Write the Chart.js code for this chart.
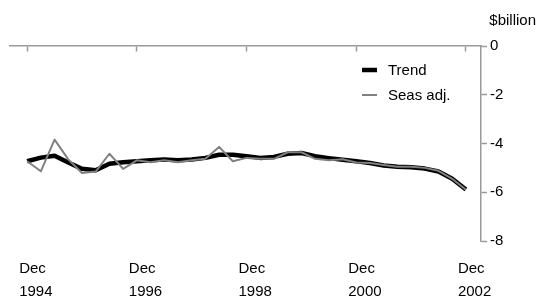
<!DOCTYPE html>
<html>
<head>
<meta charset="utf-8">
<script src="https://cdn.jsdelivr.net/npm/chart.js@4/dist/chart.umd.min.js"></script>
<style>
  body { margin: 0; background: #fff; }
  #wrap { width: 536px; height: 300px; }
</style>
</head>
<body>
<div id="wrap"><canvas id="c" width="536" height="300"></canvas></div>
<script>
// Quarterly values, Dec 1994 .. Dec 2002 ($billion)
const trend = [-4.73, -4.58, -4.5, -4.78, -5.04, -5.1, -4.83, -4.77, -4.73, -4.69, -4.66,
  -4.69, -4.66, -4.59, -4.46, -4.46, -4.52, -4.59, -4.55, -4.42, -4.39, -4.52,
  -4.6, -4.67, -4.73, -4.8, -4.9, -4.95, -4.97, -5.03, -5.15, -5.45, -5.89];
const seasAdj = [-4.73, -5.14, -3.84, -4.65, -5.21, -5.15, -4.42, -5.04, -4.69, -4.77, -4.69,
  -4.77, -4.69, -4.63, -4.14, -4.73, -4.59, -4.63, -4.63, -4.36, -4.36, -4.63,
  -4.69, -4.65, -4.78, -4.8, -4.88, -4.95, -4.95, -5.0, -5.12, -5.45, -5.9];

// x tick positions (quarter index) and their labels
const tickIdx = [0, 8, 16, 24, 32];
const tickMonth = ['Dec', 'Dec', 'Dec', 'Dec', 'Dec'];
const tickYear = ['1994', '1996', '1998', '2000', '2002'];
const yTicks = [0, -2, -4, -6, -8];
const unitLabel = '$billion';

const AXIS_GREY = '#9a9a9a';
const FONT = { family: 'Arial, "Liberation Sans", sans-serif', size: 15 };

// draws unit label + small legend inside the plot
const extras = {
  id: 'extras',
  afterDraw(chart) {
    const ctx = chart.ctx;
    ctx.save();
    ctx.font = '15px Arial, "Liberation Sans", sans-serif';
    ctx.fillStyle = '#000';
    ctx.textBaseline = 'middle';
    ctx.textAlign = 'right';
    ctx.fillText(unitLabel, 536, 21);

    ctx.textAlign = 'left';
    const items = [chart.data.datasets[0], chart.data.datasets[1]];
    items.forEach((ds, i) => {
      const y = 70 + i * 25;
      ctx.strokeStyle = ds.borderColor;
      ctx.lineWidth = ds.borderWidth;
      ctx.lineCap = 'butt';
      ctx.beginPath();
      ctx.moveTo(362, y);
      ctx.lineTo(377, y);
      ctx.stroke();
      ctx.fillText(ds.label, 388, y + 1);
    });
    ctx.restore();
  }
};

function setTicks(scale) {
  scale.ticks = tickIdx.map(v => ({ value: v }));
}

new Chart(document.getElementById('c'), {
  type: 'line',
  data: {
    datasets: [
      {
        label: 'Trend',
        data: trend.map((v, i) => ({ x: i, y: v })),
        borderColor: '#000',
        borderWidth: 4.5,
        pointRadius: 0,
        tension: 0,
        borderJoinStyle: 'round',
        order: 2
      },
      {
        label: 'Seas adj.',
        data: seasAdj.map((v, i) => ({ x: i, y: v })),
        borderColor: '#808080',
        borderWidth: 2,
        pointRadius: 0,
        tension: 0,
        borderJoinStyle: 'round',
        order: 1
      }
    ]
  },
  options: {
    responsive: false,
    animation: false,
    layout: { padding: { top: 46, left: 10, right: 0, bottom: 0 } },
    plugins: { legend: { display: false }, tooltip: { enabled: false } },
    scales: {
      x: {
        type: 'linear',
        position: 'bottom',
        min: -1.25,
        max: 33.1,
        afterBuildTicks: setTicks,
        afterFit(scale) { scale.height = 59; },
        border: { display: false },
        grid: { display: false, drawTicks: false },
        ticks: {
          autoSkip: false,
          maxRotation: 0,
          align: 'start',
          labelOffset: -8,
          padding: 17,
          color: '#000',
          font: { ...FONT, lineHeight: 1.5 },
          callback(value) {
            const k = tickIdx.indexOf(value);
            return k < 0 ? '' : [tickMonth[k], tickYear[k]];
          }
        }
      },
      xTop: {
        type: 'linear',
        axis: 'x',
        position: { y: 0 },
        min: -1.25,
        max: 33.1,
        afterBuildTicks: setTicks,
        border: { display: true, color: AXIS_GREY, width: 1.5 },
        grid: { drawOnChartArea: false, drawTicks: true, tickLength: 5, color: AXIS_GREY, tickWidth: 1.5 },
        ticks: { display: false }
      },
      y: {
        type: 'linear',
        position: 'right',
        min: -8,
        max: 0,
        afterBuildTicks(scale) { scale.ticks = yTicks.map(v => ({ value: v })); },
        afterFit(scale) { scale.width = 55; },
        border: { display: true, color: AXIS_GREY, width: 1.5 },
        grid: { drawOnChartArea: false, tickLength: 6, color: AXIS_GREY, tickWidth: 1.5 },
        ticks: { padding: 3, color: '#000', font: FONT }
      }
    }
  },
  plugins: [extras]
});
</script>
</body>
</html>
